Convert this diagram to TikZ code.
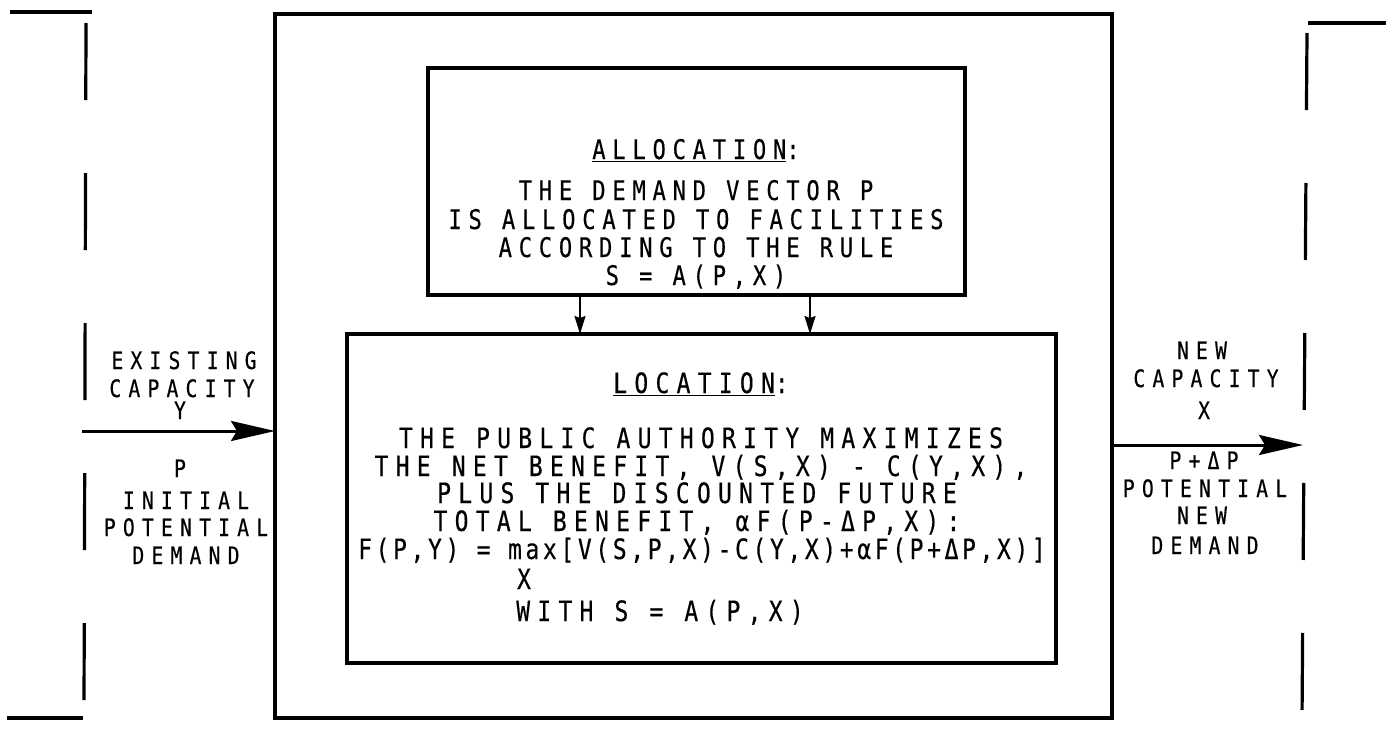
\documentclass[tikz,border=0pt]{standalone}
\usepackage{fontspec}
\usetikzlibrary{arrows.meta}
\newfontfamily\allocfont[LetterSpace=25,FakeStretch=0.82,FakeBold=0.4]{DejaVu Sans Mono}
\newfontfamily\locfont[LetterSpace=26,FakeStretch=0.82,FakeBold=0.4]{DejaVu Sans Mono}
\newfontfamily\formfont[LetterSpace=13,FakeStretch=0.82,FakeBold=0.4]{DejaVu Sans Mono}
\newfontfamily\sidefont[LetterSpace=30,FakeStretch=0.82,FakeBold=0.4]{DejaVu Sans Mono}
\begin{document}
\begin{tikzpicture}[x=1pt,y=-1pt,
  boxshape/.style={draw,line width=3.2pt,inner sep=0,outer sep=0},
  bracketline/.style={line width=3.2pt},
  dashedside/.style={line width=3.2pt,dash pattern=on 77pt off 73pt},
  bigarrow/.style={line width=3pt,-{Stealth[length=44pt,width=20pt,inset=6pt]}},
  smallarrow/.style={line width=1.8pt,-{Stealth[length=18pt,width=11pt,inset=2pt]}},
  atext/.style={anchor=base,inner sep=0,font=\allocfont\fontsize{27pt}{30pt}\selectfont},
  ltext/.style={anchor=base,inner sep=0,font=\locfont\fontsize{28pt}{31pt}\selectfont},
  ftext/.style={anchor=base,inner sep=0,font=\formfont\fontsize{28pt}{31pt}\selectfont},
  stext/.style={anchor=base,inner sep=0,font=\sidefont\fontsize{24pt}{27pt}\selectfont}]
\useasboundingbox (0,0) rectangle (1386,734);

% boxes
\node[boxshape,minimum width=837pt,minimum height=704pt] (outer) at (693.5,366) {};
\node[boxshape,minimum width=537pt,minimum height=227pt] (alloc) at (696.5,181.5) {};
\node[boxshape,minimum width=709pt,minimum height=329pt] (loc) at (701.5,498.5) {};

% connectors between boxes
\draw[smallarrow] ([xshift=-116.5pt]alloc.south) -- ([xshift=-116.5pt]alloc.south |- loc.north);
\draw[smallarrow] ([xshift=113.5pt]alloc.south) -- ([xshift=113.5pt]alloc.south |- loc.north);

% input / output arrows
\coordinate (lin) at (82,431);
\coordinate (rout) at (1303,445);
\draw[bigarrow] (lin) -- (lin -| outer.west);
\draw[bigarrow] (rout -| outer.east) -- (rout);

% side brackets
\draw[bracketline] (10,12) -- (92,12);
\draw[dashedside] (86,23) -- (84,710);
\draw[bracketline] (7,718) -- (83,718);
\draw[bracketline] (1308,23) -- (1386,23);
\draw[dashedside] (1307,33) -- (1302,720);

% allocation text
\node[atext] (a0) at (696,159) {\underline{ALLOCATION}:};
\node[atext] (a1) at (696,200) {THE DEMAND VECTOR P};
\node[atext] (a2) at (696,229) {IS ALLOCATED TO FACILITIES};
\node[atext] (a3) at (696,257) {ACCORDING TO THE RULE};
\node[atext] (a4) at (696,285) {S = A(P,X)};

% location text
\node[ltext] (l0) at (701,393) {\underline{LOCATION}:};
\node[ltext] (l1) at (701,448) {THE PUBLIC AUTHORITY MAXIMIZES};
\node[ltext] (l2) at (701,476) {THE NET BENEFIT, V(S,X) - C(Y,X),};
\node[ltext] (l3) at (697,503) {PLUS THE DISCOUNTED FUTURE};
\node[ltext] (l4) at (697,531) {TOTAL BENEFIT, αF(P-ΔP,X):};
\node[ftext] (l5) at (702,559) {F(P,Y) = max[V(S,P,X)-C(Y,X)+αF(P+ΔP,X)]};
\node[ftext] (l6) at (524,589) {X};
\node[ltext] (l7) at (660,621) {WITH S = A(P,X)};

% left labels
\node[stext] (e1) at (184,369) {EXISTING};
\node[stext] (e2) at (182,397) {CAPACITY};
\node[stext] (e3) at (180,419) {Y};
\node[stext] (e4) at (180,477) {P};
\node[stext] (e5) at (186,509) {INITIAL};
\node[stext] (e6) at (186,536) {POTENTIAL};
\node[stext] (e7) at (186,564) {DEMAND};

% right labels
\node[stext] (n1) at (1202,359) {NEW};
\node[stext] (n2) at (1206,387) {CAPACITY};
\node[stext] (n3) at (1204,419) {X};
\node[stext] (n4) at (1204,469) {P+ΔP};
\node[stext] (n5) at (1205,497) {POTENTIAL};
\node[stext] (n6) at (1202,524) {NEW};
\node[stext] (n7) at (1205,554) {DEMAND};
\end{tikzpicture}
\end{document}
